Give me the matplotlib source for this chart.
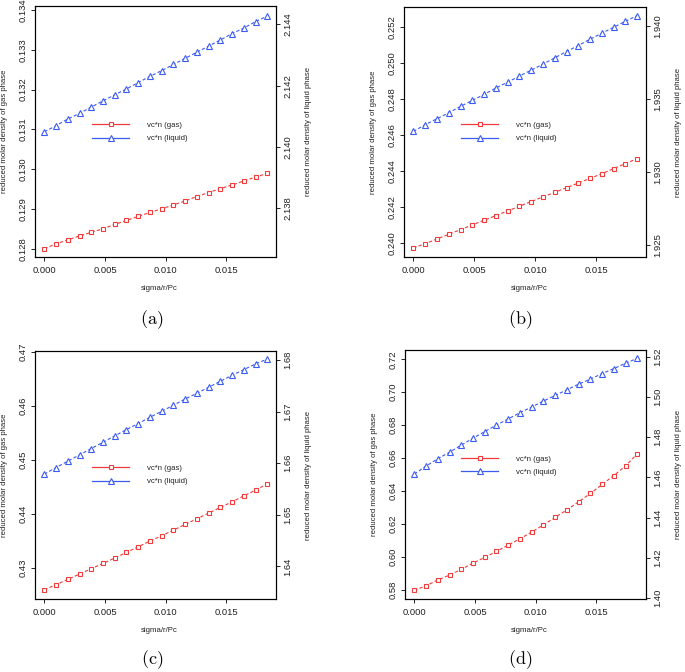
import matplotlib
matplotlib.use("Agg")
import matplotlib.pyplot as plt
from matplotlib.lines import Line2D
from matplotlib.ticker import FixedLocator, FormatStrFormatter

plt.rcParams['font.family'] = ['Liberation Sans', 'DejaVu Sans']
plt.rcParams['mathtext.fontset'] = 'cm'

# ---------------- data ----------------
x_sigma = [0.0, 0.000968, 0.001936, 0.002904, 0.003872, 0.00484, 0.005808,
           0.006776, 0.007744, 0.008712, 0.00968, 0.010648, 0.011616,
           0.012584, 0.013552, 0.01452, 0.015488, 0.016456, 0.017424, 0.018392]

gas_a = [0.12800, 0.12812, 0.12822, 0.12832, 0.12841, 0.12850, 0.12861, 0.12871,
         0.12881, 0.12891, 0.12900, 0.12910, 0.12920, 0.12931, 0.12941, 0.12951,
         0.12960, 0.12970, 0.12980, 0.12989]
liq_a = [2.14049, 2.14069, 2.14091, 2.14109, 2.14130, 2.14150, 2.14170, 2.14189,
         2.14210, 2.14230, 2.14249, 2.14269, 2.14289, 2.14309, 2.14329, 2.14349,
         2.14370, 2.14388, 2.14409, 2.14427]

gas_b = [0.23972, 0.23996, 0.24022, 0.24048, 0.24074, 0.24100, 0.24126, 0.24152,
         0.24178, 0.24204, 0.24230, 0.24256, 0.24281, 0.24307, 0.24333, 0.24359,
         0.24385, 0.24413, 0.24441, 0.24469]
liq_b = [1.93278, 1.93324, 1.93365, 1.93406, 1.93450, 1.93491, 1.93532, 1.93576,
         1.93617, 1.93658, 1.93699, 1.93740, 1.93784, 1.93827, 1.93868, 1.93912,
         1.93953, 1.93994, 1.94035, 1.94074]

gas_c = [0.42593, 0.42686, 0.42784, 0.42883, 0.42982, 0.43080, 0.43179, 0.43284,
         0.43388, 0.43493, 0.43592, 0.43696, 0.43801, 0.43906, 0.44011, 0.44116,
         0.44220, 0.44331, 0.44436, 0.44553]
liq_c = [1.65787, 1.65916, 1.66039, 1.66161, 1.66284, 1.66406, 1.66529, 1.66652,
         1.66768, 1.66890, 1.67006, 1.67123, 1.67245, 1.67355, 1.67471, 1.67587,
         1.67703, 1.67813, 1.67923, 1.68019]

gas_d = [0.57960, 0.58243, 0.58587, 0.58890, 0.59234, 0.59618, 0.59962, 0.60327,
         0.60711, 0.61095, 0.61500, 0.61945, 0.62390, 0.62855, 0.63341, 0.63846,
         0.64393, 0.64939, 0.65525, 0.66254]
liq_d = [1.46163, 1.46559, 1.46922, 1.47252, 1.47598, 1.47944, 1.48274, 1.48603,
         1.48900, 1.49214, 1.49494, 1.49791, 1.50071, 1.50351, 1.50632, 1.50879,
         1.51159, 1.51406, 1.51670, 1.51918]

x_ticks = [0.000, 0.005, 0.010, 0.015]
left_ticks_a = [0.128, 0.129, 0.130, 0.131, 0.132, 0.133, 0.134]
right_ticks_a = [2.138, 2.140, 2.142, 2.144]
left_ticks_b = [0.240, 0.242, 0.244, 0.246, 0.248, 0.250, 0.252]
right_ticks_b = [1.925, 1.930, 1.935, 1.940]
left_ticks_c = [0.43, 0.44, 0.45, 0.46, 0.47]
right_ticks_c = [1.64, 1.65, 1.66, 1.67, 1.68]
left_ticks_d = [0.58, 0.60, 0.62, 0.64, 0.66, 0.68, 0.70, 0.72]
right_ticks_d = [1.40, 1.42, 1.44, 1.46, 1.48, 1.50, 1.52]

captions = ['(a)', '(b)', '(c)', '(d)']
legend_labels = ['vc*n (gas)', 'vc*n (liquid)']
x_label = 'sigma/r/Pc'
left_label = 'reduced molar density of gas phase'
right_label = 'reduced molar density of liquid phase'

# ---------------- layout ----------------
W, H = 685, 672
RED = '#F23B3B'
BLUE = '#3B5BF2'

panels = [
    dict(box=(35, 276, 6, 257), gas=gas_a, liq=liq_a, lt=left_ticks_a, rt=right_ticks_a,
         lfmt='%.3f', rfmt='%.3f', lyl=(0.12779, 0.13410), ryl=(2.13640, 2.14460),
         leg=(92, 132), cap=(152, 320)),
    dict(box=(404, 646, 7, 257), gas=gas_b, liq=liq_b, lt=left_ticks_b, rt=right_ticks_b,
         lfmt='%.3f', rfmt='%.3f', lyl=(0.23922, 0.25311), ryl=(1.92415, 1.94133),
         leg=(461, 132), cap=(520, 320)),
    dict(box=(35, 276, 351, 599), gas=gas_c, liq=liq_c, lt=left_ticks_c, rt=right_ticks_c,
         lfmt='%.2f', rfmt='%.2f', lyl=(0.42421, 0.47012), ryl=(1.63368, 1.68174),
         leg=(92, 475), cap=(152, 660)),
    dict(box=(405, 646, 350, 599), gas=gas_d, liq=liq_d, lt=left_ticks_d, rt=right_ticks_d,
         lfmt='%.2f', rfmt='%.2f', lyl=(0.57434, 0.72566), ryl=(1.3995, 1.5233),
         leg=(461, 465.5), cap=(520, 660)),
]

fig = plt.figure(figsize=(W / 100, H / 100), dpi=100)

tick_fs = 6.8
lab_fs = 5.6

for i, p in enumerate(panels):
    l, r, t, b = p['box']
    ax = fig.add_axes([l / W, 1 - b / H, (r - l) / W, (b - t) / H])
    ax2 = ax.twinx()
    ax.set_xlim(-0.00077, 0.01911)
    ax.set_ylim(*p['lyl'])
    ax2.set_ylim(*p['ryl'])

    ax.plot(x_sigma, p['gas'], color=RED, lw=0.8, ls=(0, (3, 2)), marker='s',
            ms=3.4, mfc='white', mec=RED, mew=0.8)
    ax2.plot(x_sigma, p['liq'], color=BLUE, lw=0.8, ls=(0, (3, 2)), marker='^',
             ms=4.2, mfc='white', mec=BLUE, mew=0.8)

    ax.xaxis.set_major_locator(FixedLocator(x_ticks))
    ax.xaxis.set_major_formatter(FormatStrFormatter('%.3f'))
    ax.yaxis.set_major_locator(FixedLocator(p['lt']))
    ax.yaxis.set_major_formatter(FormatStrFormatter(p['lfmt']))
    ax2.yaxis.set_major_locator(FixedLocator(p['rt']))
    ax2.yaxis.set_major_formatter(FormatStrFormatter(p['rfmt']))

    for a in (ax, ax2):
        for s in a.spines.values():
            s.set_linewidth(0.8)
            s.set_color('black')
        a.tick_params(direction='out', length=3.2, width=0.6, labelsize=tick_fs,
                      colors='black', labelcolor='#222222', pad=2)
    ax.tick_params(axis='x', pad=3)
    for lab in ax.get_yticklabels():
        lab.set_rotation(90)
        lab.set_va('center')
    for lab in ax2.get_yticklabels():
        lab.set_rotation(90)
        lab.set_va('center')

    # axis labels
    fig.text(((l + r) / 2 + 4) / W, 1 - (b + 31) / H, x_label, fontsize=lab_fs,
             ha='center', va='center', color='#222222')
    fig.text((l - 30) / W, 1 - ((t + b) / 2) / H, left_label, fontsize=lab_fs,
             rotation=90, ha='center', va='center', color='#222222')
    fig.text((r + 32) / W, 1 - ((t + b) / 2) / H, right_label, fontsize=lab_fs,
             rotation=90, ha='center', va='center', color='#222222')

    # legend
    handles = [Line2D([], [], color=RED, lw=0.9, marker='s', ms=3.2, mfc='white', mec=RED, mew=0.8),
               Line2D([], [], color=BLUE, lw=0.9, marker='^', ms=3.8, mfc='white', mec=BLUE, mew=0.8)]
    lx, ly = p['leg']
    ax2.legend(handles, legend_labels, loc='center left',
               bbox_to_anchor=(lx / W, 1 - ly / H), bbox_transform=fig.transFigure,
               frameon=False, fontsize=lab_fs, handlelength=4.8, handletextpad=2.3,
               labelspacing=0.75, borderpad=0, borderaxespad=0, labelcolor='#222222')

    cx, cy = p['cap']
    fig.text(cx / W, 1 - cy / H, r'$\mathrm{' + captions[i] + '}$', fontsize=13,
             ha='center', va='center')

fig.savefig('out.png', dpi=100)
